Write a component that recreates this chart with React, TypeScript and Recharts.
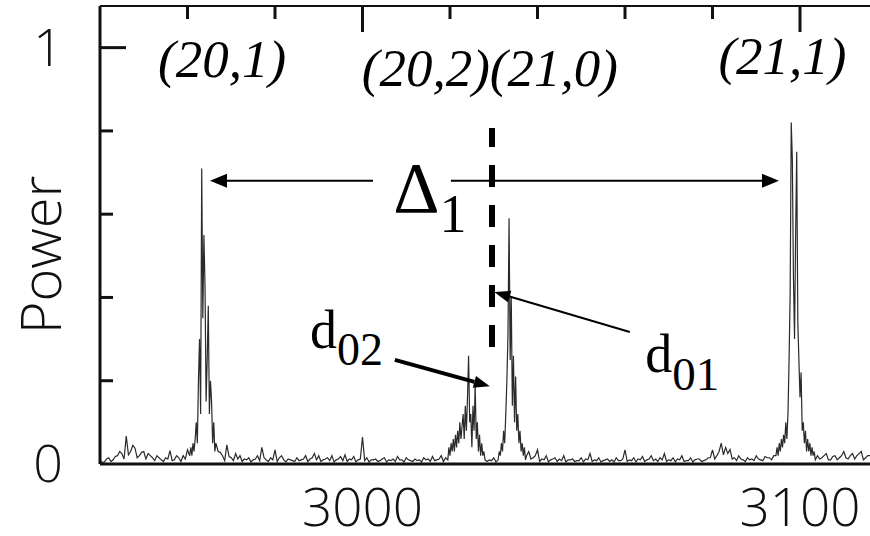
import { LineChart, Line, XAxis, YAxis, ReferenceLine, ReferenceDot } from 'recharts';

// background noise, one sample per frequency unit from 2940 (zeros sit under the peaks and are dropped)
const noiseStart = 2940;
const noisePower = [
  0.01, 0.005, 0.015, 0.01, 0.02, 0.025, 0.067, 0.03, 0.038, 0.02,
  0.03, 0.025, 0.015, 0.02, 0.01, 0.015, 0.032, 0.01, 0.015, 0.02,
  0.034, 0, 0, 0, 0, 0, 0, 0.03, 0.02, 0.046,
  0.015, 0.025, 0.02, 0.012, 0.015, 0.01, 0.02, 0.04, 0.01, 0.015,
  0.034, 0.015, 0.01, 0.012, 0.008, 0.015, 0.01, 0.02, 0.012, 0.025,
  0.02, 0.01, 0.015, 0.02, 0.01, 0.018, 0.022, 0.012, 0.018, 0.01,
  0.065, 0.015, 0.01, 0.012, 0.008, 0.015, 0.01, 0.012, 0.018, 0.01,
  0.015, 0.008, 0.012, 0.01, 0.015, 0.012, 0.018, 0.01, 0.02, 0.015,
  0, 0, 0, 0, 0, 0, 0, 0, 0, 0.01,
  0.015, 0, 0, 0, 0, 0, 0, 0, 0.03, 0.015,
  0.034, 0.012, 0.02, 0.01, 0.015, 0.012, 0.02, 0.01, 0.012, 0.008,
  0.015, 0.012, 0.025, 0.01, 0.015, 0.008, 0.012, 0.01, 0.015, 0.008,
  0.034, 0.01, 0.015, 0.012, 0.018, 0.01, 0.02, 0.012, 0.015, 0.025,
  0.01, 0.015, 0.012, 0.02, 0.008, 0.015, 0.01, 0.012, 0.008, 0.015,
  0.034, 0.02, 0.05, 0.04, 0.035, 0.015, 0.02, 0.01, 0.015, 0.012,
  0.02, 0.01, 0.018, 0.015, 0.02, 0, 0, 0, 0, 0,
  0, 0, 0, 0, 0.02, 0.015, 0.025, 0.01, 0.02, 0.015,
  0.03, 0.012, 0.025, 0.02, 0.03, 0.015, 0.02,
];

// noise at the half-unit points, from 2940.5
const noiseHalfStart = 2940.5;
const noiseHalfPower = [
  0.004, 0.012, 0.006, 0.018, 0.03, 0.012, 0.022, 0.045, 0.015, 0.028,
  0.012, 0.02, 0.008, 0.015, 0.006, 0.012, 0.008, 0.02, 0.006, 0.012,
  0, 0, 0, 0, 0, 0, 0.012, 0.028, 0.008, 0.018,
  0.008, 0.012, 0.006, 0.01, 0.005, 0.012, 0.008, 0.015, 0.006, 0.01,
  0.006, 0.02, 0.005, 0.01, 0.006, 0.008, 0.012, 0.006, 0.015, 0.01,
  0.006, 0.012, 0.008, 0.005, 0.012, 0.008, 0.006, 0.01, 0.005, 0.012,
  0.008, 0.005, 0.01, 0.006, 0.012, 0.005, 0.008, 0.006, 0.01, 0.005,
  0.01, 0.006, 0.008, 0.005, 0.01, 0.006, 0.008, 0.012, 0.006, 0,
  0, 0, 0, 0, 0, 0, 0, 0, 0.006, 0.008,
  0.005, 0, 0, 0, 0, 0, 0, 0, 0.012, 0.02,
  0.006, 0.01, 0.005, 0.012, 0.006, 0.008, 0.005, 0.01, 0.006, 0.008,
  0.005, 0.01, 0.006, 0.008, 0.005, 0.01, 0.006, 0.005, 0.008, 0.012,
  0.006, 0.008, 0.005, 0.01, 0.006, 0.012, 0.008, 0.006, 0.01, 0.006,
  0.008, 0.005, 0.01, 0.006, 0.008, 0.005, 0.012, 0.006, 0.01, 0.015,
  0.012, 0.03, 0.022, 0.025, 0.012, 0.008, 0.012, 0.006, 0.01, 0.008,
  0.012, 0.008, 0.015, 0.01, 0, 0, 0, 0, 0, 0,
  0, 0, 0, 0, 0.012, 0.02, 0.01, 0.018, 0.01, 0.02,
  0.015, 0.02, 0.012, 0.025, 0.01, 0.02,
];

// peaks sampled every 0.25
const peakStep = 0.25;

const peak201Start = 2960.5;
const peak201Power = [
  0.02, 0.04, 0.02, 0.05, 0.03, 0.06, 0.1, 0.05, 0.2, 0.3,
  0.12, 0.71, 0.35, 0.55, 0.43, 0.15, 0.25, 0.38, 0.12, 0.2,
  0.15, 0.05, 0.1, 0.03, 0.05,
];

const peak202Start = 3019.5;
const peak202Power = [
  0.01, 0.04, 0.02, 0.05, 0.03, 0.06, 0.03, 0.07, 0.04, 0.08,
  0.05, 0.1, 0.06, 0.09, 0.12, 0.06, 0.14, 0.08, 0.16, 0.26,
  0.1, 0.12, 0.04, 0.14, 0.08, 0.19, 0.06, 0.1, 0.03, 0.07,
  0.02, 0.05, 0.02, 0.03, 0.01,
];

const peak210Start = 3031;
const peak210Power = [
  0.01, 0.03, 0.02, 0.05, 0.03, 0.08, 0.05, 0.12, 0.2, 0.31,
  0.59, 0.25, 0.4, 0.14, 0.26, 0.1, 0.21, 0.08, 0.12, 0.05,
  0.08, 0.03, 0.05, 0.02, 0.04, 0.01, 0.02,
];

const peak211Start = 3094.5;
const peak211Power = [
  0.02, 0.04, 0.02, 0.05, 0.03, 0.06, 0.04, 0.07, 0.05, 0.1,
  0.06, 0.12, 0.25, 0.41, 0.82, 0.73, 0.45, 0.3, 0.55, 0.75,
  0.34, 0.25, 0.16, 0.22, 0.08, 0.1, 0.05, 0.08, 0.03, 0.06,
  0.03, 0.05, 0.02, 0.04, 0.02, 0.03, 0.01,
];

const frameTicks = [2960, 2980, 3000, 3020, 3040, 3060, 3080, 3100];
const labelledTicks = [3000, 3100];
const yTicks = [0, 0.2, 0.4, 0.6, 0.8, 1];

const xMin = 2940;
const xMax = 3116;
const yMax = 1.1;

// layout: top frame axis 6px high, bottom axis 72px, so the plot runs from y=6 to y=464
const TOP_AXIS_H = 6;
const BOTTOM_AXIS_H = 72;

const peaks = [
  { start: peak201Start, values: peak201Power },
  { start: peak202Start, values: peak202Power },
  { start: peak210Start, values: peak210Power },
  { start: peak211Start, values: peak211Power },
];

const inPeak = (f: number) =>
  peaks.some((p) => f >= p.start && f <= p.start + (p.values.length - 1) * peakStep);

const noisePoints = (start: number, values: number[]) =>
  values.map((v, i) => ({ f: start + i, power: v })).filter((d) => !inPeak(d.f) && d.f <= xMax);

const spectrum = [
  ...noisePoints(noiseStart, noisePower),
  ...noisePoints(noiseHalfStart, noiseHalfPower),
  ...peaks.flatMap((p) => p.values.map((v, i) => ({ f: p.start + i * peakStep, power: v }))),
].sort((a, b) => a.f - b.f);

const SERIF = '"Liberation Serif", "Times New Roman", serif';
const SANS = '"Open Sans", "DejaVu Sans", sans-serif';

// bottom axis tick: puts the inward tick on the top frame (same x from the axis scale)
// and writes the label under the axis for 3000 and 3100
function BottomTick(props: any) {
  const { x, y, payload } = props;
  const v = payload.value;
  const len = v % 100 === 0 ? 26 : 13;
  return (
    <g>
      <line x1={x} y1={TOP_AXIS_H} x2={x} y2={TOP_AXIS_H + len} stroke="#111" strokeWidth={3} />
      {labelledTicks.includes(v) && (
        <text x={x} y={y + 62} textAnchor="middle" fontFamily={SANS} fontWeight={300} fontSize={53} fill="#111">
          {v}
        </text>
      )}
    </g>
  );
}

function LeftTick(props: any) {
  const { x, y, payload } = props;
  const v = payload.value;
  const len = v === 1 ? 26 : v === 0 ? 0 : 13;
  return (
    <g>
      {len > 0 && <line x1={x} y1={y} x2={x + len} y2={y} stroke="#111" strokeWidth={3} />}
      {(v === 0 || v === 1) && (
        <text x={48} y={y + 18} textAnchor="middle" fontFamily={SANS} fontWeight={300} fontSize={52} fill="#111">
          {v}
        </text>
      )}
    </g>
  );
}

function arrow(width: number, head: number, half: number) {
  return (p: any) => {
    const { x1, y1, x2, y2 } = p;
    const dx = x2 - x1;
    const dy = y2 - y1;
    const d = Math.hypot(dx, dy) || 1;
    const ux = dx / d;
    const uy = dy / d;
    const bx = x2 - ux * head;
    const by = y2 - uy * head;
    return (
      <g>
        <line x1={x1} y1={y1} x2={bx} y2={by} stroke="#000" strokeWidth={width} />
        <polygon
          points={`${x2},${y2} ${bx - uy * half},${by + ux * half} ${bx + uy * half},${by - ux * half}`}
          fill="#000"
        />
      </g>
    );
  };
}

function modeLabel(text: string) {
  return (p: any) => (
    <text x={p.cx} y={p.cy} textAnchor="middle" fontFamily={SERIF} fontStyle="italic" fontSize={53} fill="#000">
      {text}
    </text>
  );
}

function subLabel(main: string, sub: string, size: number, subSize: number, drop: number) {
  return (p: any) => (
    <text x={p.cx} y={p.cy} fontFamily={SERIF} fontSize={size} fill="#000">
      {main}
      <tspan fontSize={subSize} dy={drop}>{sub}</tspan>
    </text>
  );
}

export default function App() {
  return (
    <div style={{ position: 'absolute', left: 0, top: 0, width: 870, height: 536, background: '#fff', overflow: 'hidden' }}>
      <LineChart width={870} height={536} data={spectrum} margin={{ top: 0, right: 0, left: 0, bottom: 0 }}>
        <XAxis
          xAxisId="top"
          orientation="top"
          type="number"
          dataKey="f"
          domain={[xMin, xMax]}
          height={TOP_AXIS_H}
          tick={false}
          tickLine={false}
          axisLine={{ stroke: '#111', strokeWidth: 2 }}
        />
        <XAxis
          xAxisId="bottom"
          orientation="bottom"
          type="number"
          dataKey="f"
          domain={[xMin, xMax]}
          ticks={frameTicks}
          interval={0}
          height={BOTTOM_AXIS_H}
          tickSize={0}
          tickMargin={0}
          tickLine={false}
          tick={<BottomTick />}
          axisLine={{ stroke: '#111', strokeWidth: 3 }}
        />
        <YAxis
          type="number"
          domain={[0, yMax]}
          ticks={yTicks}
          interval={0}
          width={100}
          tickSize={0}
          tickMargin={0}
          tickLine={false}
          tick={<LeftTick />}
          axisLine={{ stroke: '#111', strokeWidth: 3 }}
          label={{
            value: 'Power',
            angle: -90,
            position: 'insideLeft',
            dx: 36,
            dy: 20,
            style: { fontFamily: SANS, fontWeight: 300, fontSize: 56, fill: '#111', textAnchor: 'middle' },
          }}
        />
        <Line
          xAxisId="bottom"
          type="linear"
          dataKey="power"
          stroke="#2a2a2a"
          strokeWidth={1.2}
          dot={false}
          isAnimationActive={false}
        />
        <ReferenceLine
          xAxisId="bottom"
          segment={[{ x: 3029.6, y: 0.281 }, { x: 3029.6, y: 0.807 }]}
          stroke="#000"
          strokeWidth={6}
          strokeDasharray="22 18"
        />
        <ReferenceLine xAxisId="bottom" segment={[{ x: 3002.4, y: 0.68 }, { x: 2965.14, y: 0.68 }]} shape={arrow(2, 17, 7)} />
        <ReferenceLine xAxisId="bottom" segment={[{ x: 3020.2, y: 0.68 }, { x: 3095.2, y: 0.68 }]} shape={arrow(2, 17, 7)} />
        <ReferenceLine xAxisId="bottom" segment={[{ x: 3007.4, y: 0.25 }, { x: 3029.1, y: 0.187 }]} shape={arrow(4, 16, 6)} />
        <ReferenceLine xAxisId="bottom" segment={[{ x: 3061.1, y: 0.317 }, { x: 3030.1, y: 0.413 }]} shape={arrow(2, 16, 6)} />
        <ReferenceDot xAxisId="bottom" x={2967.9} y={0.929} r={0} shape={modeLabel('(20,1)')} />
        <ReferenceDot xAxisId="bottom" x={3029.1} y={0.908} r={0} shape={modeLabel('(20,2)(21,0)')} />
        <ReferenceDot xAxisId="bottom" x={3096.0} y={0.937} r={0} shape={modeLabel('(21,1)')} />
        <ReferenceDot xAxisId="bottom" x={3007.0} y={0.605} r={0} shape={subLabel('Δ', '1', 72, 54, 20)} />
        <ReferenceDot xAxisId="bottom" x={2988.0} y={0.279} r={0} shape={subLabel('d', '02', 54, 46, 17)} />
        <ReferenceDot xAxisId="bottom" x={3064.6} y={0.221} r={0} shape={subLabel('d', '01', 54, 47, 18)} />
      </LineChart>
    </div>
  );
}
